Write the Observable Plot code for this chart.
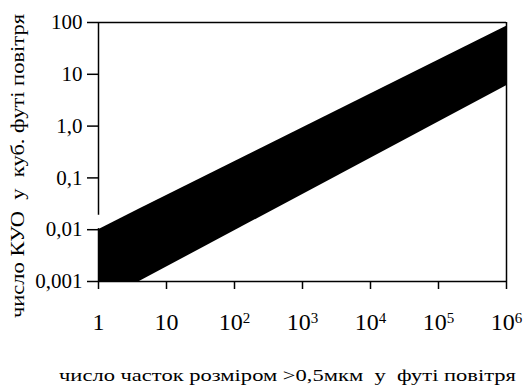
<!DOCTYPE html>
<html><head><meta charset="utf-8">
<script src="https://cdn.jsdelivr.net/npm/d3@7"></script>
<script src="https://cdn.jsdelivr.net/npm/@observablehq/plot@0.6"></script>
<style>
body{margin:0;background:#fff}
#c svg{font-family:"Liberation Serif","DejaVu Serif",serif;background:#fff;color:#000}
</style>
</head><body><div id="c"></div>
<script>
// band between the lower and upper estimate lines
const bandX = [1, 4, 1e6];
const bandLow = [0.001, 0.001, 6];
const bandHigh = [0.01, 0.025, 85];
// axes
const xTicks = [1, 10, 100, 1000, 1e4, 1e5, 1e6];
const xTickLabels = ["1", "10", "10^2", "10^3", "10^4", "10^5", "10^6"];
const yTicks = [0.001, 0.01, 0.1, 1, 10, 100];
const yTickLabels = ["0,001", "0,01", "0,1", "1,0", "10", "100"];
// left axis line with a break between 0,1 and 0,01
const axisTop = [100, 0.0105];
const axisBottom = [0.019, 0.001];
const xTitle = "число часток розміром >0,5мкм  у  футі повітря";
const yTitle = "число КУО  у  куб. футі повітря";

const rows = bandX.map((x, i) => ({x, lo: bandLow[i], hi: bandHigh[i]}));
const axisSegs = axisTop.map((t, i) => ({t, b: axisBottom[i]}));

const chart = Plot.plot({
  width: 530, height: 386,
  marginLeft: 98, marginRight: 24, marginTop: 22, marginBottom: 105,
  x: {type: "log", domain: [1, 1e6]},
  y: {type: "log", domain: [0.001, 100]},
  marks: [
    Plot.areaY(rows, {x: "x", y1: "lo", y2: "hi", fill: "#000", clip: true}),
    Plot.ruleY([100], {x1: 1, x2: 1e6, stroke: "#000", strokeWidth: 1.5}),
    Plot.ruleY([0.001], {x1: 1, x2: 1e6, stroke: "#000", strokeWidth: 1.5}),
    Plot.ruleX([1e6], {y1: 0.001, y2: 100, stroke: "#000", strokeWidth: 1.5}),
    Plot.ruleX(axisSegs, {x: () => 1, y1: "t", y2: "b", stroke: "#000", strokeWidth: 1.5}),
    Plot.axisX(xTicks, {tickFormat: d => xTickLabels[xTicks.indexOf(d)], tickSize: 8, tickPadding: 23, fontSize: 24, stroke: "#000", strokeWidth: 1.5, color: "#000", label: null}),
    Plot.axisY(yTicks, {tickFormat: d => yTickLabels[yTicks.indexOf(d)], tickSize: 11, tickPadding: 5, fontSize: 21, stroke: "#000", strokeWidth: 1.5, color: "#000", label: null}),
    Plot.text([xTitle], {frameAnchor: "bottom", lineAnchor: "bottom", textAnchor: "middle", dy: 99, dx: -15, fontSize: 17, fill: "#000", className: "xtitle"}),
    Plot.text([yTitle], {frameAnchor: "left", rotate: -90, textAnchor: "middle", lineAnchor: "bottom", dx: -75, dy: 14, fontSize: 18, fill: "#000", className: "ytitle"})
  ]
});
document.getElementById("c").appendChild(chart);

// render exponents as raised text
chart.querySelectorAll('g[aria-label="x-axis tick label"] text').forEach(t => {
  const s = t.textContent;
  if (s.includes("^")) {
    const [base, exp] = s.split("^");
    t.textContent = base;
    const ts = document.createElementNS("http://www.w3.org/2000/svg", "tspan");
    ts.setAttribute("dy", "-0.45em");
    ts.setAttribute("font-size", "15");
    ts.textContent = exp;
    t.appendChild(ts);
  }
});
// stretch the titles to the reference's widths
const fit = (sel, len) => chart.querySelectorAll(sel + " text").forEach(t => {
  t.setAttribute("textLength", len);
  t.setAttribute("lengthAdjust", "spacingAndGlyphs");
});
fit("g.xtitle", 457);
fit("g.ytitle", 304);
</script>
</body></html>
